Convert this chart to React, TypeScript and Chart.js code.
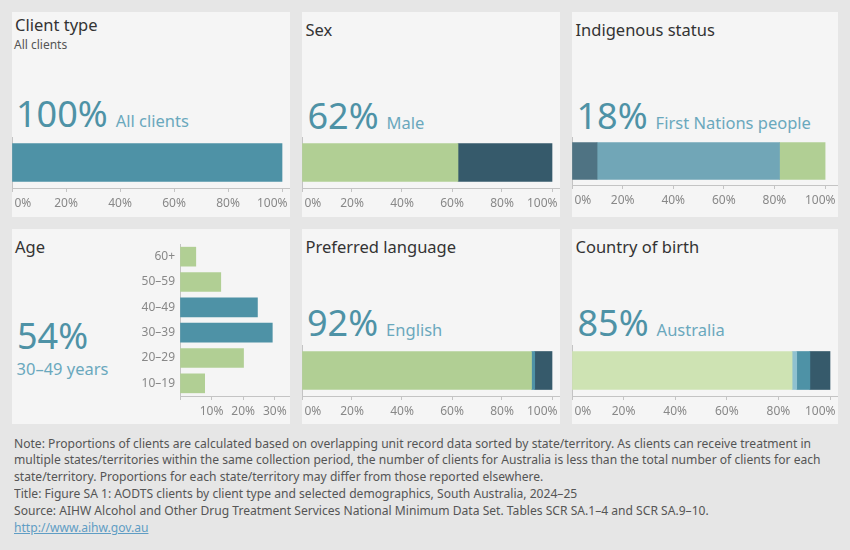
import React, { useEffect, useLayoutEffect, useRef } from 'react';
import { Chart, registerables } from 'chart.js';

Chart.register(...registerables);

// ---------- data ----------
const clientTypeLabels = ['All clients'];
const clientTypeValues = [100];

const sexLabels = ['Male', 'Female'];
const sexValues = [62.4, 37.6];

const indigenousLabels = ['Not stated', 'Non-Indigenous', 'First Nations people'];
const indigenousValues = [9.9, 72.1, 18.0];

const ageLabels = ['60+', '50–59', '40–49', '30–39', '20–29', '10–19'];
const ageValues = [5.0, 12.9, 24.5, 29.2, 20.1, 7.8];
const ageHighlight = ['40–49', '30–39'];

const languageLabels = ['English', 'Other language', 'Not stated'];
const languageValues = [91.8, 1.3, 6.9];

const countryLabels = ['Australia', 'Not stated', 'Other English-speaking', 'Non-English-speaking'];
const countryValues = [85.3, 1.8, 5.1, 7.8];

const pctTicks = [0, 20, 40, 60, 80, 100];
const ageTicks = [0, 10, 20, 30];

const headlines = {
  client: ['100%', 'All clients'],
  sex: ['62%', 'Male'],
  indigenous: ['18%', 'First Nations people'],
  age: ['54%', '30–49 years'],
  language: ['92%', 'English'],
  country: ['85%', 'Australia'],
};

const noteLines = [
  'Note: Proportions of clients are calculated based on overlapping unit record data sorted by state/territory. As clients can receive treatment in',
  'multiple states/territories within the same collection period, the number of clients for Australia is less than the total number of clients for each',
  'state/territory. Proportions for each state/territory may differ from those reported elsewhere.',
  'Title: Figure SA 1: AODTS clients by client type and selected demographics, South Australia, 2024–25',
  'Source: AIHW Alcohol and Other Drug Treatment Services National Minimum Data Set. Tables SCR SA.1–4 and SCR SA.9–10.',
];
const linkText = 'http://www.aihw.gov.au';

// ---------- style ----------
const FONT = "'Noto Sans', 'Open Sans', sans-serif";
const TEAL = '#4e92a6';
const GREEN = '#b1cf94';
const DARK = '#365a6b';
const SLATE = '#4f7383';
const LTEAL = '#71a6b7';
const PALEGREEN = '#cee3b3';
const LBLUE = '#8fc1cf';
const AXIS = '#c4c4c4';
const TICK = '#888888';
const NUM = '#4e92a6';
const LABEL = '#6aa8bd';

// Draws x tick labels (from the scale's own ticks), kept inside the pane like the original.
const clampedTickLabels = {
  id: 'clampedTickLabels',
  afterDraw(chart: any) {
    const s = chart.scales.x;
    const ctx = chart.ctx;
    ctx.save();
    ctx.font = `12px ${FONT}`;
    ctx.fillStyle = TICK;
    ctx.textBaseline = 'alphabetic';
    ctx.textAlign = 'left';
    s.ticks.forEach((t: any, i: number) => {
      const label = t.label;
      if (!label) return;
      const w = ctx.measureText(label).width;
      let x = s.getPixelForTick(i) - w / 2;
      x = Math.max(s.left + 2.5, Math.min(chart.width - 2.5 - w, x));
      ctx.fillText(label, x, s.top + 18.5);
    });
    ctx.restore();
  },
};

type BarProps = {
  labels: string[];
  values: number[];
  colors: string[];
  left: number;
  top: number;
  width: number;
  height: number;
  max: number;
  thickness: number;
};

function StackedBar(p: BarProps) {
  const ref = useRef<HTMLCanvasElement>(null);
  useEffect(() => {
    const chart = new Chart(ref.current as HTMLCanvasElement, {
      type: 'bar',
      data: {
        labels: [''],
        datasets: p.values.map((v, i) => ({
          label: p.labels[i],
          data: [v],
          backgroundColor: p.colors[i],
          borderWidth: 0,
          barThickness: p.thickness,
        })),
      },
      plugins: [clampedTickLabels],
      options: {
        animation: false,
        responsive: false,
        maintainAspectRatio: false,
        indexAxis: 'y',
        layout: { padding: { left: 0, right: 0, top: 0, bottom: 20 } },
        plugins: { legend: { display: false }, tooltip: { enabled: false } },
        scales: {
          x: {
            type: 'linear',
            stacked: true,
            min: 0,
            max: p.max,
            afterBuildTicks: (s: any) => {
              s.ticks = pctTicks.map((v) => ({ value: v }));
            },
            afterFit: (s: any) => {
              s.paddingLeft = 0;
              s.paddingRight = 0;
            },
            ticks: {
              display: false,
              callback: (v: any) => v + '%',
            },
            grid: { drawOnChartArea: false, drawTicks: true, tickLength: 4, color: AXIS },
            border: { display: true, color: AXIS, width: 1 },
          },
          y: {
            stacked: true,
            ticks: { display: false },
            grid: { display: false, drawTicks: false, tickLength: 0 },
            border: { display: true, color: AXIS, width: 1 },
            afterFit: (s: any) => {
              s.width = 0;
              s.paddingTop = 0;
              s.paddingBottom = 0;
            },
          },
        },
      } as any,
    });
    return () => chart.destroy();
  }, []);
  return (
    <canvas
      ref={ref}
      width={p.width}
      height={p.height}
      style={{ position: 'absolute', left: p.left, top: p.top, width: p.width, height: p.height }}
    />
  );
}

function AgeChart() {
  const ref = useRef<HTMLCanvasElement>(null);
  useEffect(() => {
    const chart = new Chart(ref.current as HTMLCanvasElement, {
      type: 'bar',
      data: {
        labels: ageLabels,
        datasets: [
          {
            label: 'Age',
            data: ageValues,
            backgroundColor: ageLabels.map((l) => (ageHighlight.includes(l) ? TEAL : GREEN)),
            borderWidth: 0,
            barThickness: 19,
          },
        ],
      },
      plugins: [clampedTickLabels],
      options: {
        animation: false,
        responsive: false,
        maintainAspectRatio: false,
        indexAxis: 'y',
        layout: { padding: { left: 0, right: 0, top: 0, bottom: 20 } },
        plugins: { legend: { display: false }, tooltip: { enabled: false } },
        scales: {
          x: {
            type: 'linear',
            min: 0,
            max: 34.8,
            afterBuildTicks: (s: any) => {
              s.ticks = ageTicks.map((v) => ({ value: v }));
            },
            afterFit: (s: any) => {
              s.paddingLeft = 0;
              s.paddingRight = 0;
            },
            ticks: {
              display: false,
              callback: (v: any) => (v === 0 ? '' : v + '%'),
            },
            grid: { drawOnChartArea: false, drawTicks: true, tickLength: 4, color: AXIS },
            border: { display: true, color: AXIS, width: 1 },
          },
          y: {
            ticks: { color: TICK, font: { family: FONT, size: 12 }, padding: 5 },
            grid: { display: false, drawTicks: false, tickLength: 0 },
            border: { display: true, color: AXIS, width: 1 },
            afterFit: (s: any) => {
              s.width = 60;
              s.paddingTop = 0;
              s.paddingBottom = 0;
            },
          },
        },
      } as any,
    });
    return () => chart.destroy();
  }, []);
  return (
    <canvas
      ref={ref}
      width={170}
      height={176}
      style={{ position: 'absolute', left: 120, top: 244, width: 170, height: 176 }}
    />
  );
}

const ASC = 0.888; // baseline offset (em) for Noto Sans with line-height 1

function Title({ text, x, baseline, size = 16.5, color = '#333' }: any) {
  return (
    <div
      style={{
        position: 'absolute',
        left: x,
        top: baseline - ASC * size,
        fontSize: size,
        lineHeight: 1,
        color,
        whiteSpace: 'nowrap',
        fontFamily: FONT,
      }}
    >
      {text}
    </div>
  );
}

function Stat({ num, label, x, baseline }: any) {
  return (
    <div
      style={{
        position: 'absolute',
        left: x,
        top: baseline - ASC * 36,
        display: 'flex',
        alignItems: 'baseline',
        whiteSpace: 'nowrap',
        fontFamily: FONT,
        lineHeight: 1,
      }}
    >
      <span style={{ fontSize: 36, color: NUM }}>{num}</span>
      <span style={{ fontSize: 16.5, color: LABEL, marginLeft: 8 }}>{label}</span>
    </div>
  );
}

function Panel({ x, y, w, h }: any) {
  return <div style={{ position: 'absolute', left: x, top: y, width: w, height: h, background: '#f5f5f5' }} />;
}

function Notes() {
  const boxRef = useRef<HTMLDivElement>(null);
  const firstRef = useRef<HTMLSpanElement>(null);
  useLayoutEffect(() => {
    if (!boxRef.current || !firstRef.current) return;
    const w = firstRef.current.getBoundingClientRect().width;
    if (w > 0) {
      let s = 797 / w;
      s = Math.max(0.8, Math.min(1.2, s));
      boxRef.current.style.transform = `scaleX(${s})`;
    }
  }, []);
  return (
    <div
      ref={boxRef}
      style={{
        position: 'absolute',
        left: 14,
        top: 435.5,
        fontFamily: FONT,
        fontSize: 12,
        lineHeight: '16.9px',
        color: '#555',
        whiteSpace: 'nowrap',
        transformOrigin: '0 0',
      }}
    >
      {noteLines.map((l, i) => (
        <div key={i}>
          <span ref={i === 0 ? firstRef : undefined}>{l}</span>
        </div>
      ))}
      <div>
        <span style={{ color: '#5f9dc4', textDecoration: 'underline' }}>{linkText}</span>
      </div>
    </div>
  );
}

export default function App() {
  return (
    <div
      style={{
        position: 'fixed',
        left: 0,
        top: 0,
        width: 850,
        height: 550,
        background: '#e6e6e6',
        overflow: 'hidden',
        fontFamily: FONT,
      }}
    >
      <Panel x={12} y={12} w={278} h={205} />
      <Panel x={302} y={12} w={258} h={205} />
      <Panel x={572} y={12} w={266} h={205} />
      <Panel x={12} y={229} w={278} h={195} />
      <Panel x={302} y={229} w={258} h={195} />
      <Panel x={572} y={229} w={266} h={195} />

      <Title text="Client type" x={15} baseline={32} />
      <Title text="All clients" x={14} baseline={49.5} size={12} color="#555" />
      <Title text="Sex" x={305.5} baseline={37} />
      <Title text="Indigenous status" x={575.5} baseline={37} />
      <Title text="Age" x={15} baseline={254} />
      <Title text="Preferred language" x={305.5} baseline={254} />
      <Title text="Country of birth" x={575.5} baseline={254} />

      <Stat num={headlines.client[0]} label={headlines.client[1]} x={16} baseline={128} />
      <Stat num={headlines.sex[0]} label={headlines.sex[1]} x={307.5} baseline={129.5} />
      <Stat num={headlines.indigenous[0]} label={headlines.indigenous[1]} x={576.5} baseline={129.5} />
      <Stat num={headlines.language[0]} label={headlines.language[1]} x={307} baseline={337.3} />
      <Stat num={headlines.country[0]} label={headlines.country[1]} x={577.5} baseline={337.3} />
      <Title text={headlines.age[0]} x={17} baseline={350} size={36} color={NUM} />
      <Title text={headlines.age[1]} x={16.5} baseline={375.5} size={16.5} color={LABEL} />

      <StackedBar labels={clientTypeLabels} values={clientTypeValues} colors={[TEAL]} left={12} top={137} width={278} height={75} max={102.96} thickness={38} />
      <StackedBar labels={sexLabels} values={sexValues} colors={[GREEN, DARK]} left={302} top={137} width={258} height={75} max={103.2} thickness={38} />
      <StackedBar labels={indigenousLabels} values={indigenousValues} colors={[SLATE, LTEAL, GREEN]} left={572} top={137} width={266} height={72} max={105.1} thickness={37} />
      <AgeChart />
      <StackedBar labels={languageLabels} values={languageValues} colors={[GREEN, TEAL, DARK]} left={302} top={345} width={258} height={75} max={103.2} thickness={38} />
      <StackedBar labels={countryLabels} values={countryValues} colors={[PALEGREEN, LBLUE, TEAL, DARK]} left={572} top={345} width={266} height={75} max={103.1} thickness={38} />

      <Notes />
    </div>
  );
}
